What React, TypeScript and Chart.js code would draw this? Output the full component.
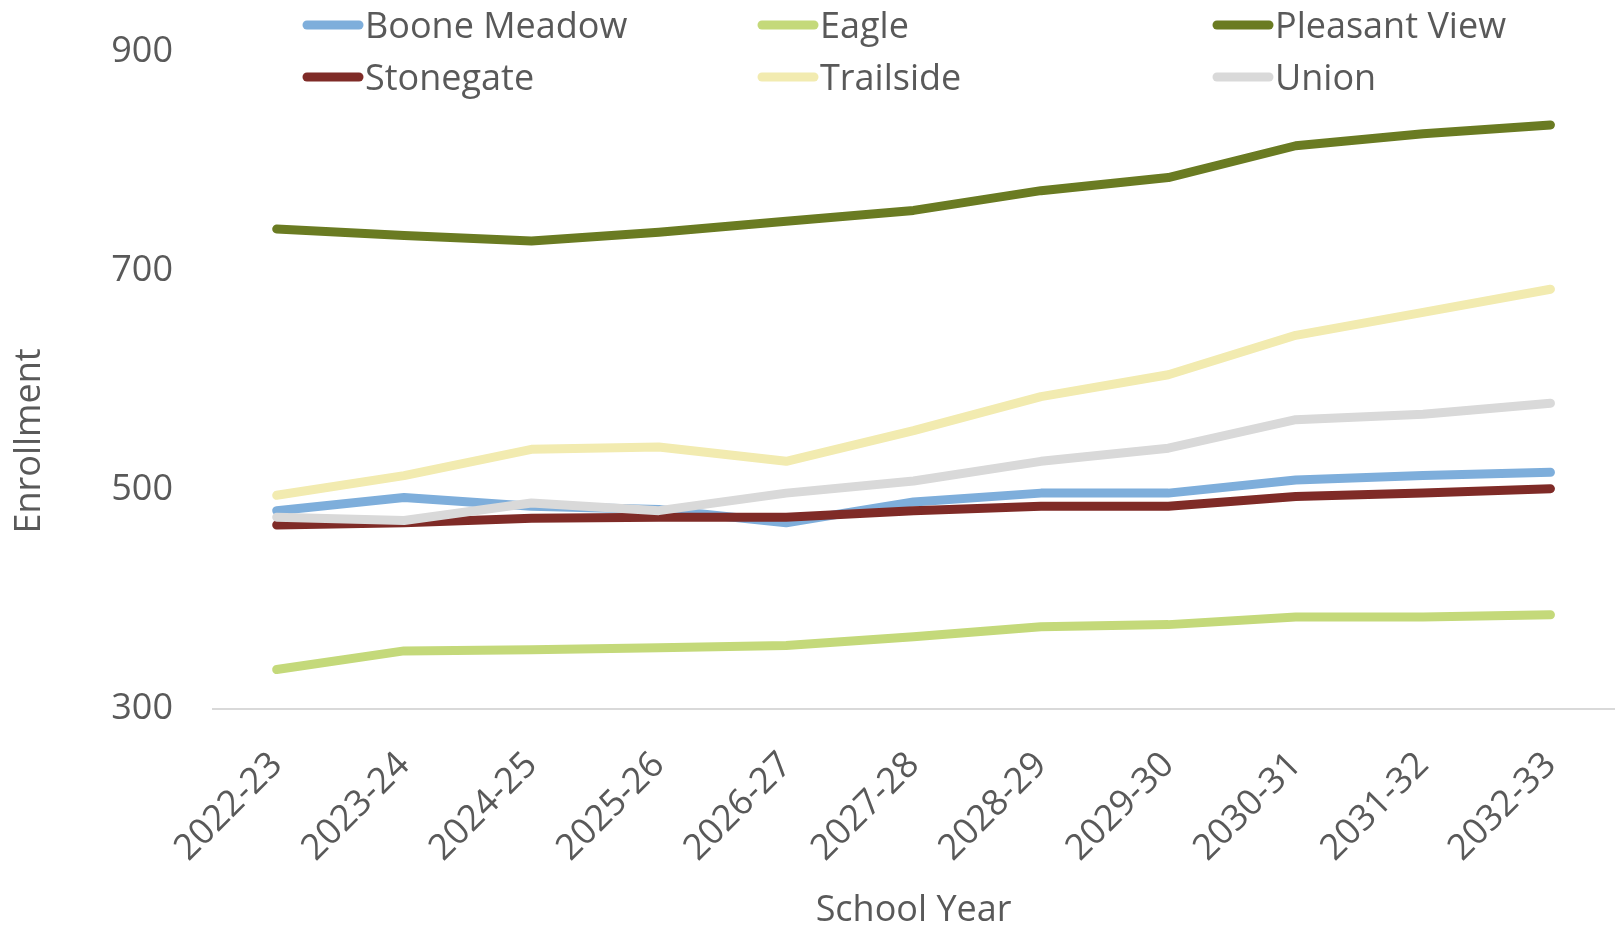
import React, { useEffect, useRef } from "react";
import { Chart, registerables } from "chart.js";

Chart.register(...registerables);

const schoolYears = [
  "2022-23", "2023-24", "2024-25", "2025-26", "2026-27", "2027-28",
  "2028-29", "2029-30", "2030-31", "2031-32", "2032-33",
];

const booneMeadow = [481, 493, 485, 482, 470, 489, 497, 497, 509, 513, 516];
const eagle = [336, 353, 354, 356, 358, 366, 375, 377, 384, 384, 386];
const pleasantView = [738, 732, 727, 735, 745, 755, 773, 785, 814, 825, 833];
const stonegate = [468, 470, 474, 475, 475, 481, 485, 485, 494, 497, 501];
const trailside = [495, 513, 537, 539, 526, 554, 585, 605, 641, 662, 683];
const union = [475, 472, 488, 481, 497, 508, 526, 538, 564, 569, 579];

const seriesNames = ["Boone Meadow", "Eagle", "Pleasant View", "Stonegate", "Trailside", "Union"];
const seriesValues = [booneMeadow, eagle, pleasantView, stonegate, trailside, union];
const seriesColors = ["#7eaedb", "#c4d97a", "#6a7b22", "#7f2b27", "#f2ebb0", "#d9d9d9"];

const yTickMin = 300;
const yTickMax = 900;
const yTickStep = 200;

const FONT = '"Open Sans", "Noto Sans", sans-serif';
const TEXT_COLOR = "#595959";
const FONT_SIZE = 36;

const legendAndTitlePlugin = {
  id: "customLegendTitle",
  afterDraw(chart: any) {
    const ctx = chart.ctx;
    ctx.save();
    const datasets = chart.data.datasets;
    datasets.forEach((ds: any, i: number) => {
      const col = i % 3;
      const row = Math.floor(i / 3);
      const x0 = 307 + col * 455;
      const x1 = x0 + 52;
      const y = 25 + row * 52;
      ctx.strokeStyle = ds.borderColor;
      ctx.lineWidth = 9;
      ctx.lineCap = "round";
      ctx.beginPath();
      ctx.moveTo(x0, y);
      ctx.lineTo(x1, y);
      ctx.stroke();
      ctx.fillStyle = TEXT_COLOR;
      ctx.font = `${FONT_SIZE}px ${FONT}`;
      ctx.textAlign = "left";
      ctx.textBaseline = "alphabetic";
      ctx.fillText(ds.label, x1 + 6, y + 12.5);
    });
    ctx.translate(30, 441);
    ctx.rotate(-Math.PI / 2);
    ctx.fillStyle = TEXT_COLOR;
    ctx.font = `${FONT_SIZE}px ${FONT}`;
    ctx.textAlign = "center";
    ctx.textBaseline = "middle";
    ctx.fillText("Enrollment", 0, 0);
    ctx.restore();
  },
};

export default function App() {
  const canvasRef = useRef<HTMLCanvasElement | null>(null);

  useEffect(() => {
    let chart: Chart | null = null;
    let cancelled = false;
    const make = () => {
      if (cancelled || !canvasRef.current) return;
      const n = seriesNames.length;
      chart = new Chart(canvasRef.current, {
        type: "line",
        data: {
          labels: schoolYears,
          datasets: seriesNames.map((name, i) => ({
            label: name,
            data: seriesValues[i],
            borderColor: seriesColors[i],
            backgroundColor: seriesColors[i],
            borderWidth: 9,
            borderCapStyle: "round",
            borderJoinStyle: "round",
            pointRadius: 0,
            tension: 0,
            fill: false,
            order: n - i,
          })),
        },
        options: {
          animation: false,
          responsive: false,
          devicePixelRatio: 1,
          layout: { padding: { top: 51.5, left: 0, right: 0, bottom: 0 } },
          plugins: {
            legend: { display: false },
            tooltip: { enabled: false },
            title: { display: false },
          },
          scales: {
            x: {
              type: "category",
              offset: true,
              grid: { display: false, drawTicks: false },
              border: { display: true, color: "#d9d9d9", width: 2 },
              ticks: {
                autoSkip: false,
                maxRotation: 45,
                minRotation: 45,
                padding: 35,
                color: TEXT_COLOR,
                font: { family: FONT, size: FONT_SIZE },
              },
              title: {
                display: true,
                text: "School Year",
                color: TEXT_COLOR,
                font: { family: FONT, size: FONT_SIZE, lineHeight: 1.0 },
                padding: 0,
              },
              afterFit: (scale: any) => {
                scale.height = 220;
              },
            },
            y: {
              min: yTickMin,
              max: yTickMax,
              grid: { display: false, drawTicks: false },
              border: { display: false },
              ticks: {
                stepSize: yTickStep,
                padding: 40,
                color: TEXT_COLOR,
                font: { family: FONT, size: FONT_SIZE },
              },
              afterFit: (scale: any) => {
                scale.width = 213;
                scale.paddingTop = 0;
                scale.paddingBottom = 0;
              },
            },
          },
        },
        plugins: [legendAndTitlePlugin],
      } as any);
    };
    const fontsReady = (document as any).fonts
      ? Promise.all([
          (document as any).fonts.load(`${FONT_SIZE}px "Open Sans"`),
        ]).catch(() => null)
      : Promise.resolve(null);
    fontsReady.then(make);
    return () => {
      cancelled = true;
      if (chart) chart.destroy();
    };
  }, []);

  return (
    <div style={{ position: "fixed", left: 0, top: 0, width: 1616, height: 929, background: "#ffffff" }}>
      <canvas ref={canvasRef} width={1616} height={929} style={{ display: "block" }} />
    </div>
  );
}
